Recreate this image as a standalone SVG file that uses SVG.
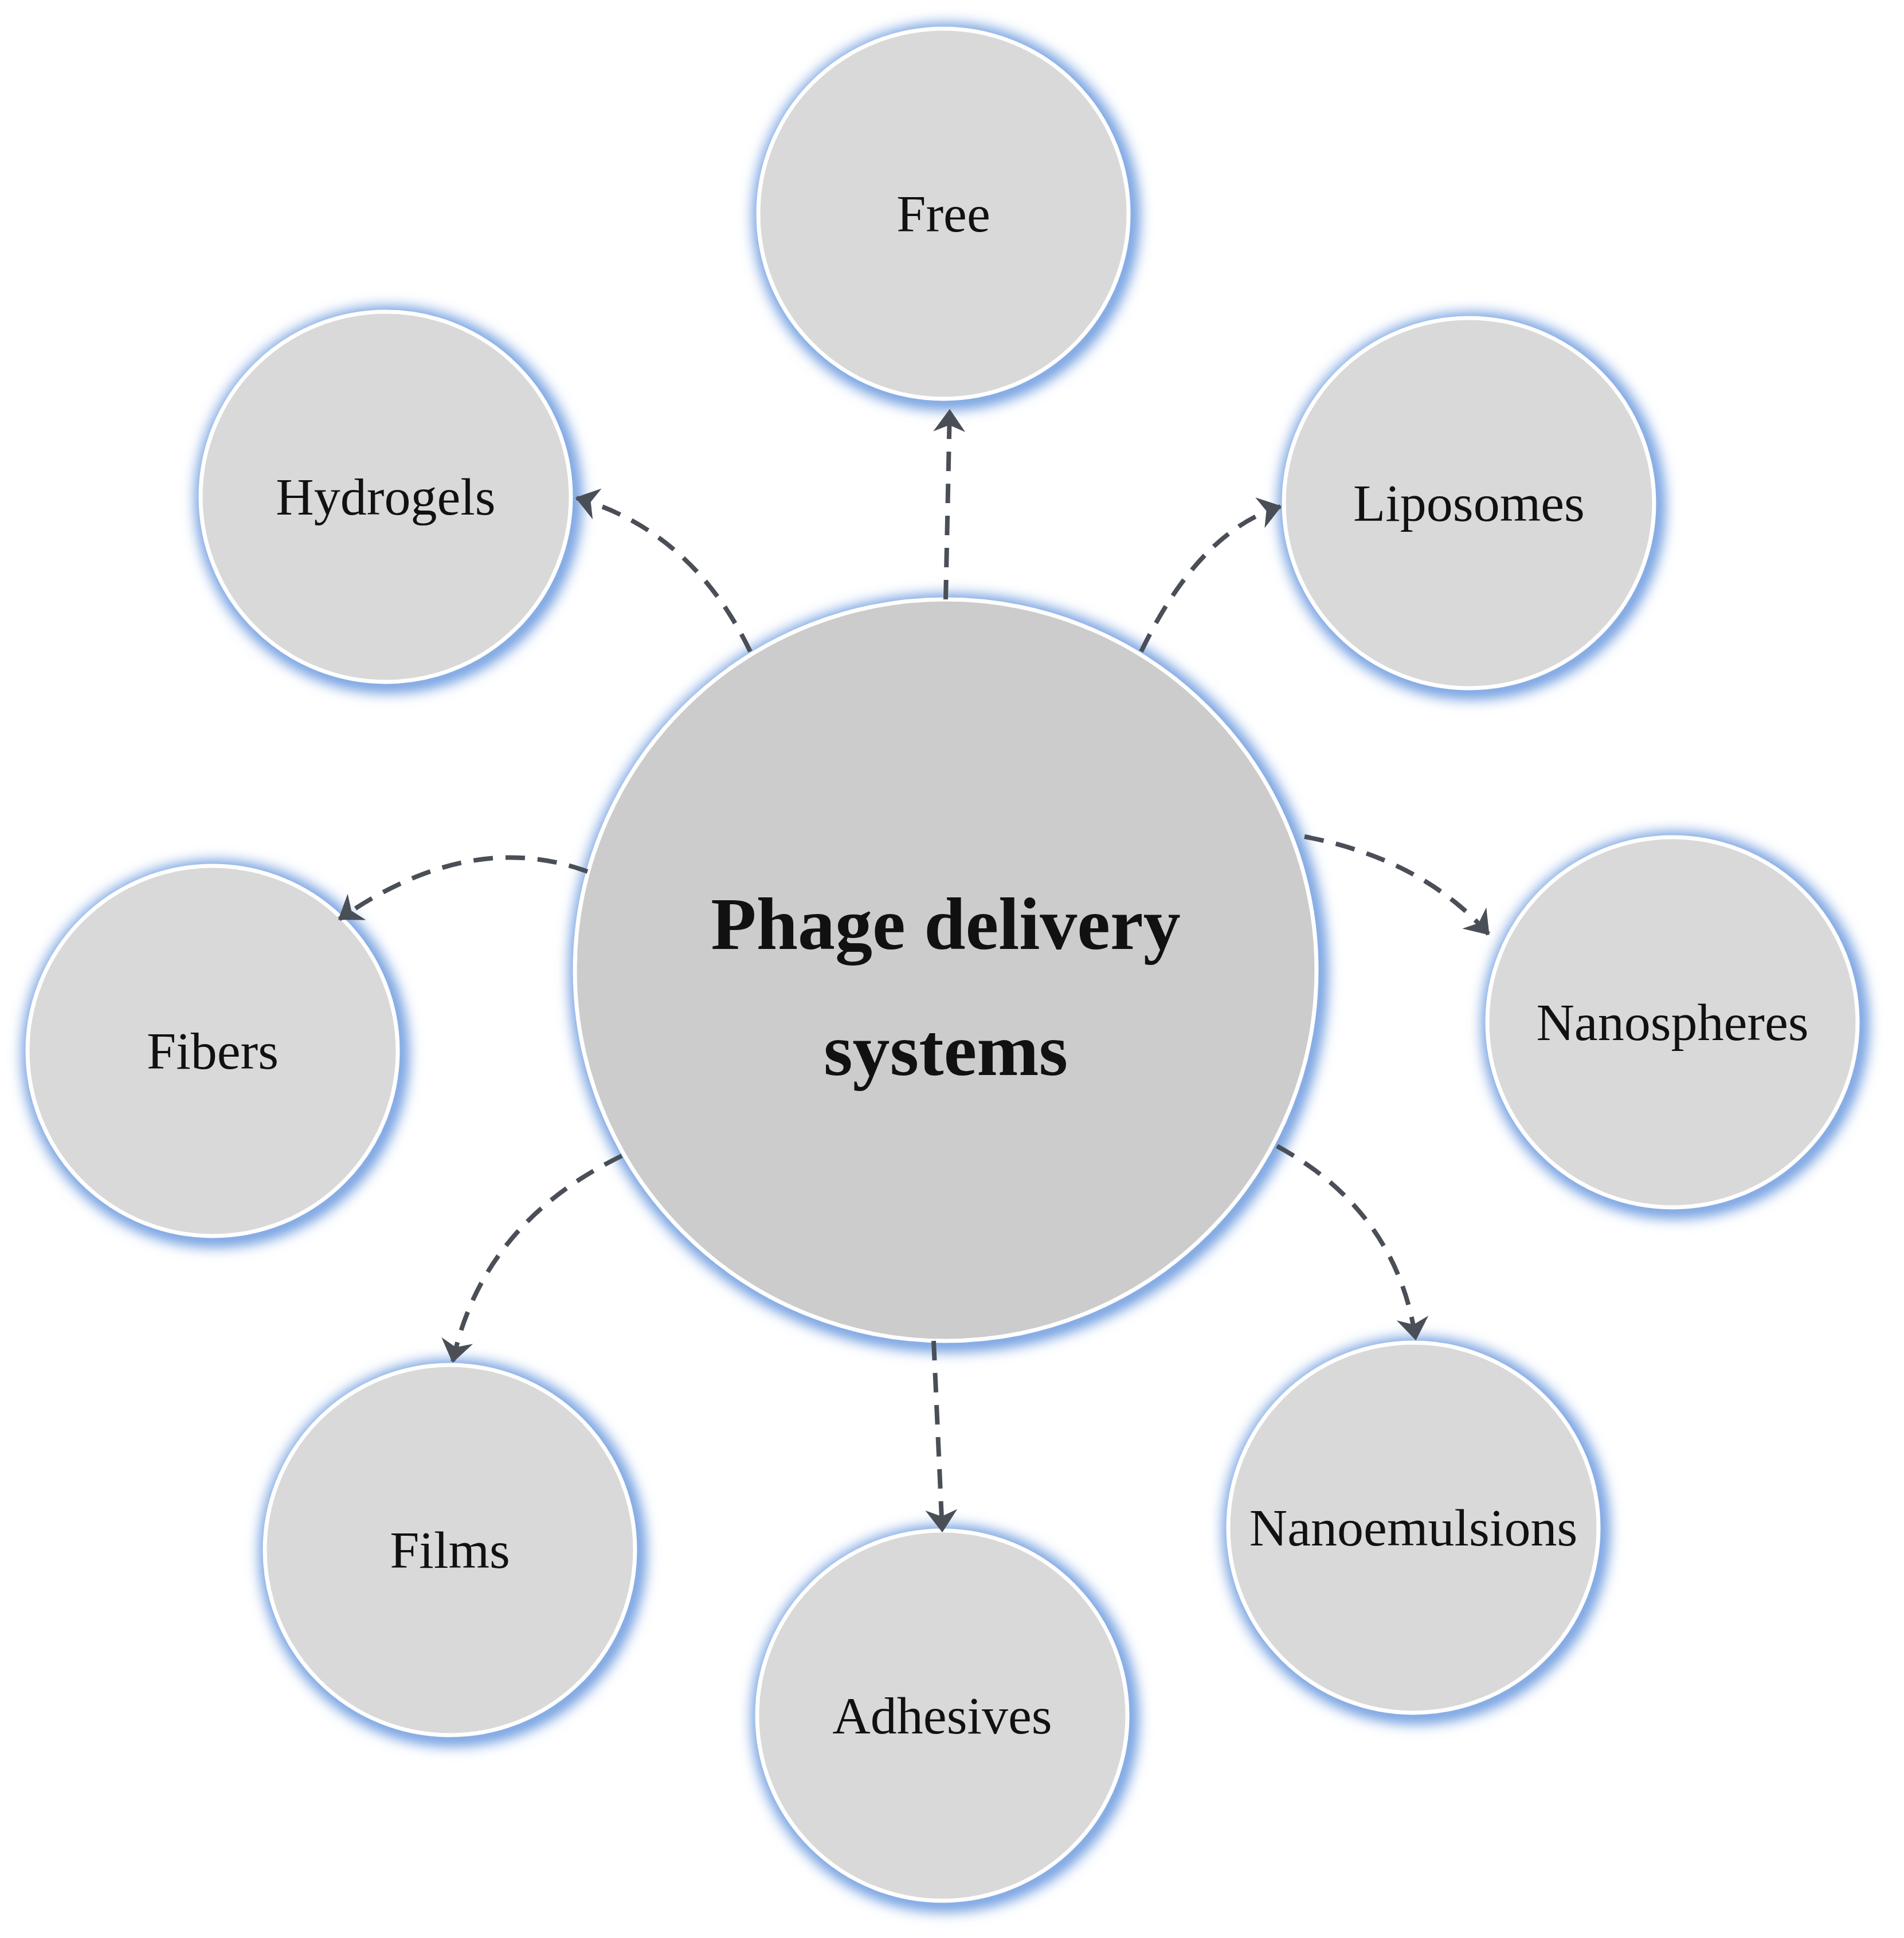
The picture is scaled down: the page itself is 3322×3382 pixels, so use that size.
<svg xmlns="http://www.w3.org/2000/svg" width="3322" height="3382" viewBox="0 0 3322 3382">
<defs>
<filter id="glow" x="-20%" y="-20%" width="140%" height="140%"><feGaussianBlur stdDeviation="12"/></filter>
<marker id="ah" viewBox="0 0 60 60" refX="46" refY="30" markerWidth="70" markerHeight="70" orient="auto" markerUnits="userSpaceOnUse"><path d="M14,6 L48,30 L14,54 L24,30 Z" fill="#4a4f57"/></marker>
</defs>
<style>
.halo{fill:none;stroke:#5b8fdb;stroke-width:26;filter:url(#glow)}
.node{fill:#d9d9d9;stroke:#ffffff;stroke-width:7}
.main{fill:#cccccc;stroke:#ffffff;stroke-width:7}
.lbl{font-family:"Liberation Serif",serif;font-size:92px;fill:#111;text-anchor:middle;dominant-baseline:central}
.big{font-family:"Liberation Serif",serif;font-size:130px;font-weight:bold;fill:#111;text-anchor:middle}
.c{fill:none;stroke:#4a4f57;stroke-width:8;stroke-dasharray:34 22;marker-end:url(#ah)}
</style>
<rect width="3322" height="3382" fill="#fff"/>
<g id="center"><circle class="halo" cx="1655" cy="1698" r="647"/><circle class="main" cx="1650" cy="1693" r="647"/><text class="big" x="1650" y="1656">Phage delivery</text><text class="big" x="1650" y="1876">systems</text></g>
<g id="free"><circle class="halo" cx="1651" cy="378" r="323"/><circle class="node" cx="1646" cy="373" r="323"/><text class="lbl" x="1646" y="373">Free</text></g>
<g id="hydrogels"><circle class="halo" cx="678" cy="872" r="323"/><circle class="node" cx="673" cy="867" r="323"/><text class="lbl" x="673" y="867">Hydrogels</text></g>
<g id="liposomes"><circle class="halo" cx="2568" cy="883" r="323"/><circle class="node" cx="2563" cy="878" r="323"/><text class="lbl" x="2563" y="878">Liposomes</text></g>
<g id="nanospheres"><circle class="halo" cx="2923" cy="1789" r="323"/><circle class="node" cx="2918" cy="1784" r="323"/><text class="lbl" x="2918" y="1784">Nanospheres</text></g>
<g id="fibers"><circle class="halo" cx="376" cy="1839" r="323"/><circle class="node" cx="371" cy="1834" r="323"/><text class="lbl" x="371" y="1834">Fibers</text></g>
<g id="films"><circle class="halo" cx="790" cy="2710" r="323"/><circle class="node" cx="785" cy="2705" r="323"/><text class="lbl" x="785" y="2705">Films</text></g>
<g id="adhesives"><circle class="halo" cx="1649" cy="2999" r="323"/><circle class="node" cx="1644" cy="2994" r="323"/><text class="lbl" x="1644" y="2994">Adhesives</text></g>
<g id="nanoemulsions"><circle class="halo" cx="2471" cy="2671" r="323"/><circle class="node" cx="2466" cy="2666" r="323"/><text class="lbl" x="2466" y="2666">Nanoemulsions</text></g>
<g id="connectors">
<path class="c" d="M1650,1046 L1657,716"/>
<path class="c" d="M1309,1137 Q1208,927 1006,869"/>
<path class="c" d="M1991,1137 Q2092,927 2234,884"/>
<path class="c" d="M2276,1460 Q2481,1499 2597,1630"/>
<path class="c" d="M1025,1521 Q820,1445 592,1604"/>
<path class="c" d="M1085,2017 Q841,2135 790,2376"/>
<path class="c" d="M1629,2340 L1644,2672"/>
<path class="c" d="M2228,2000 Q2437,2114 2470,2337"/>
</g>
</svg>
